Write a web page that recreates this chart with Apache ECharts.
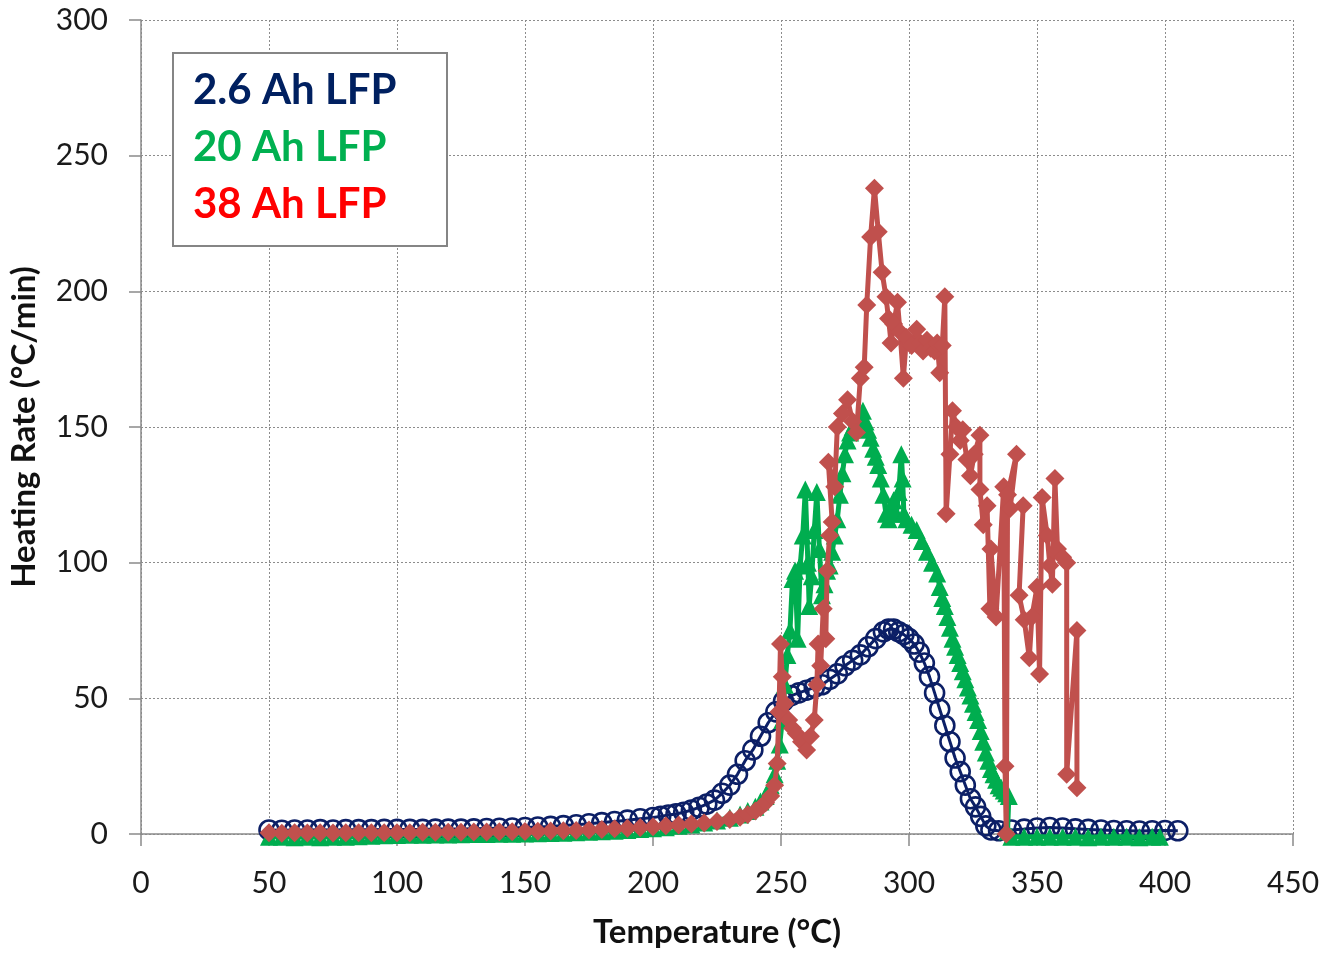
<!DOCTYPE html>
<html>
<head>
<meta charset="utf-8">
<script src="https://cdn.jsdelivr.net/npm/echarts@6/dist/echarts.min.js"></script>
<style>
html,body{margin:0;padding:0;background:#fff;}
#chart{width:1324px;height:954px;}
</style>
</head>
<body>
<div id="chart"></div>
<script>
// ---- Data ----
const seriesNames = ['2.6 Ah LFP', '20 Ah LFP', '38 Ah LFP'];

// 2.6 Ah LFP (open circles)
const blueT = [
  50,55,60,65,70,75,80,85,90,95,
  100,105,110,115,120,125,130,135,140,145,
  150,155,160,165,170,175,180,185,190,195,
  200,203,206,209,212,215,218,221,224,227,
  230,233,236,239,242,245,248,251,254,257,
  260,263,266,269,272,275,278,281,284,287,
  290,292,294,296,298,300,302,304,306,308,
  310,312,314,316,318,320,322,324,326,328,
  330,332,335,340,345,350,355,360,365,370,
  375,380,385,390,395,400,405
];
const blueV = [
  1.5,1.4,1.5,1.5,1.6,1.5,1.6,1.6,1.6,1.7,
  1.7,1.7,1.7,1.8,1.8,1.8,1.9,2.0,2.1,2.2,
  2.4,2.6,2.8,3.1,3.4,3.8,4.2,4.6,5.1,5.6,
  6.1,6.5,7.0,7.4,8.0,8.8,9.8,11,12.5,15,
  18,22,27,31,36,41,45,49,51,52,
  53,54,55,57,59,62,64,66,69,72,
  74.5,75.5,75.5,74.5,73.5,72,70,67,63,58,
  52,46,40,34,28,23,18,13,10,6.5,
  3,1.5,1.2,1.5,1.8,2.2,2.4,2.2,1.9,1.7,
  1.5,1.3,1.2,1.1,1.2,1.3,1.2
];

// 20 Ah LFP (filled triangles)
const greenT = [
  50,55,60,65,70,75,80,85,90,95,
  100,105,110,115,120,125,130,135,140,145,
  150,155,160,165,170,175,180,185,190,195,
  200,205,210,215,220,225,230,234,237,240,
  242,244,246,247.5,248.5,249.5,250.5,251.5,252.5,253.5,
  254.5,255.5,256.5,257.5,258.5,259.5,260.5,261,262,263,
  264,265,266,267,268,269,270,271,272,273,
  274,275,276,277,278,279,280,281,282,283,
  284,285,286,287,288,289,290,291,292,293,
  294,295,296,297,297.5,298,299,301,303,305,
  307,309,311,312,313,314,315,316,317,318,
  319,320,321,322,323,324,325,326,327,328,
  329,330,331,332,333,334,335,336,337,338,
  339,338.5,340,345,350,355,360,365,370,375,
  380,385,390,395,398
];
const greenV = [
  -1,-1,-1.2,-1,-1.2,-1,-1,-0.8,-0.6,-0.5,
  -0.4,-0.3,-0.3,-0.2,-0.2,-0.1,0,0,0.1,0.1,
  0.2,0.3,0.4,0.5,0.6,0.8,1.0,1.2,1.5,1.8,
  2.1,2.5,3.0,3.5,4.2,5.0,6.0,7.2,8.5,10,
  12,14,18,22,27,33,42,55,66,75,
  94,97,72,99,110,127,100,84,95,112,
  126,105,88,92,97,99,104,110,116,125,
  133,140,145,148,150,151,152,154,156,152,
  149,146,142,139,136,131,125,118,116,120,
  123,118,126,140,131,118,116,114,112,108,
  104,100,96,91,87,84,80,76,72,69,
  66,63,60,57,54,51,48,45,42,38,
  34,30,27,24,22,20,18,17,16,15,
  14,1,-1,-1,-1,-1,-1,-1,-1.2,-1,
  -1,-1,-1.2,-1,-1
];

// 38 Ah LFP (filled diamonds)
const redT = [
  50,55,60,65,70,75,80,85,90,95,
  100,105,110,115,120,125,130,135,140,145,
  150,155,160,165,170,175,180,185,190,195,
  200,205,210,215,220,225,230,234,237,240,
  242,244,246,247.5,248.5,249.2,249.8,250.5,251.5,253,
  254.5,256,258,260,261.5,263,264,264.5,265.5,266.5,
  267.5,268,269,270,268.5,271,272,274,276,278,
  279.5,281,282.5,283.5,285,286.5,288,289.5,291,292,
  293,294,295.5,296.5,297.8,299,301,303,304.5,305.5,
  307,308.5,310,311,312,313,314,314.5,316,317,
  318.5,320,321,322.6,324,325.5,327.7,327.7,329,330.5,
  331.6,332,334,337,337.5,338,338.5,342,339.5,344.6,
  343,345,347,348,350,351,352,354,355,356,
  357,358,360,361.6,361.6,365.6,365.6
];
const redV = [
  0.5,0.3,0.5,0.4,0.5,0.4,0.5,0.5,0.5,0.5,
  0.5,0.5,0.6,0.6,0.6,0.6,0.7,0.7,0.8,0.8,
  0.9,1.0,1.1,1.2,1.3,1.5,1.7,1.9,2.1,2.4,
  2.7,3.0,3.3,3.7,4.1,4.6,5.3,6.2,7.2,8.5,
  9.8,11.5,14,18,26,45,70,58,48,42,
  39,37,34,31,36,42,55,70,62,83,
  72,97,110,115,137,128,150,155,160,152,
  148,168,172,195,220,238,222,207,198,190,
  181,188,196,185,168,183,180,186,181,178,
  182,179,178,181,170,180,198,118,140,156,
  150,145,149,138,132,140,147,127,114,121,
  83,105,80,128,25,0,125,140,120,121,
  88,79,65,80,91,59,124,110,99,92,
  131,105,102,100,22,75,17
];

// ---- Chart ----
const toPairs = (xs, ys) => xs.map((x, i) => [x, ys[i]]);
const navy = '#0c1f66';
const green = '#00ad4f';
const red = '#c0504d';
const axisFont = 'Lato, "Noto Sans", sans-serif';

const chart = echarts.init(document.getElementById('chart'), null, {renderer: 'canvas'});
chart.setOption({
  backgroundColor: '#ffffff',
  animation: false,
  grid: {left: 141, right: 31, top: 20, bottom: 117, containLabel: false},
  xAxis: {
    type: 'value', min: 0, max: 450, interval: 50,
    name: 'Temperature (°C)', nameLocation: 'middle', nameGap: 82,
    nameTextStyle: {fontFamily: axisFont, fontWeight: 'bold', fontSize: 33, color: '#111'},
    axisLine: {show: true, onZero: false, lineStyle: {color: '#8a8a8a', width: 1.5}},
    axisTick: {show: true, inside: false, length: 12, lineStyle: {color: '#8a8a8a', width: 1.5}},
    axisLabel: {margin: 34, fontFamily: axisFont, fontSize: 30, color: '#1a1a1a'},
    splitLine: {show: true, lineStyle: {color: '#8c8c8c', width: 1, type: [2, 2]}}
  },
  yAxis: {
    type: 'value', min: 0, max: 300, interval: 50,
    name: 'Heating Rate (°C/min)', nameLocation: 'middle', nameGap: 100, nameRotate: 90,
    nameTextStyle: {fontFamily: axisFont, fontWeight: 'bold', fontSize: 33, color: '#111'},
    axisLine: {show: true, lineStyle: {color: '#8a8a8a', width: 1.5}},
    axisTick: {show: true, inside: false, length: 12, lineStyle: {color: '#8a8a8a', width: 1.5}},
    axisLabel: {margin: 33, fontFamily: axisFont, fontSize: 30, color: '#1a1a1a'},
    splitLine: {show: true, lineStyle: {color: '#8c8c8c', width: 1, type: [2, 2]}}
  },
  series: [
    {
      name: seriesNames[0], type: 'line', data: toPairs(blueT, blueV), clip: false,
      symbol: 'circle', symbolSize: 19, showSymbol: true,
      itemStyle: {color: 'rgba(0,0,0,0)', borderColor: navy, borderWidth: 2.6},
      lineStyle: {color: navy, width: 3}, z: 2
    },
    {
      name: seriesNames[1], type: 'line', data: toPairs(greenT, greenV), clip: false,
      symbol: 'triangle', symbolSize: 18, showSymbol: true,
      itemStyle: {color: green},
      lineStyle: {color: green, width: 5}, z: 3
    },
    {
      name: seriesNames[2], type: 'line', data: toPairs(redT, redV), clip: false,
      symbol: 'diamond', symbolSize: 19, showSymbol: true,
      itemStyle: {color: red},
      lineStyle: {color: red, width: 5}, z: 4
    }
  ],
  graphic: [
    {type: 'rect', left: 172, top: 52, z: 10,
     shape: {width: 274, height: 193},
     style: {fill: '#ffffff', stroke: '#858585', lineWidth: 2}},
    {type: 'text', left: 193, top: 69, z: 11,
     style: {text: seriesNames[0], fill: '#002060', font: 'bold 42px Lato, sans-serif'}},
    {type: 'text', left: 193, top: 126, z: 11,
     style: {text: seriesNames[1], fill: '#00b050', font: 'bold 42px Lato, sans-serif'}},
    {type: 'text', left: 193, top: 183, z: 11,
     style: {text: seriesNames[2], fill: '#ff0000', font: 'bold 42px Lato, sans-serif'}}
  ]
});
</script>
</body>
</html>
